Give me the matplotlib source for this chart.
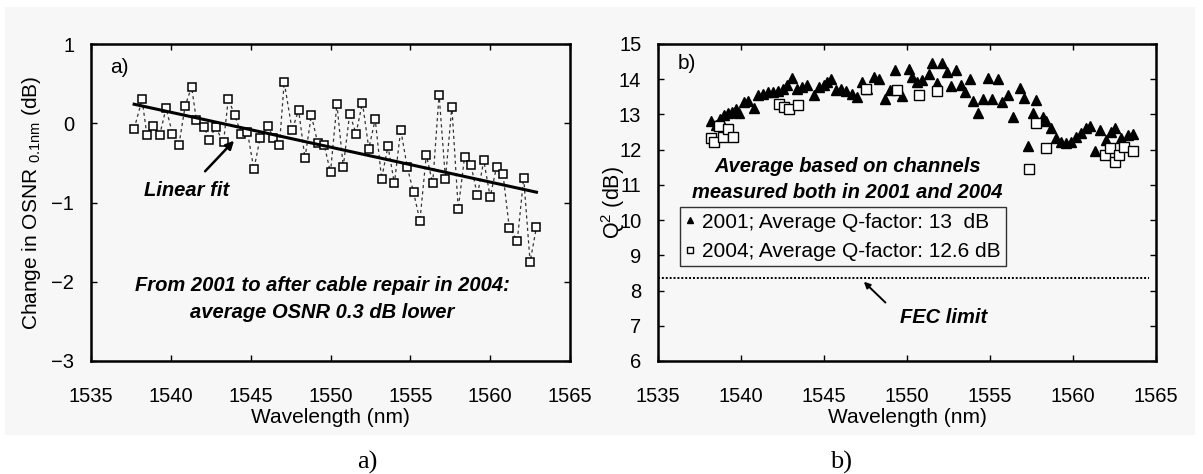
import matplotlib
matplotlib.use("Agg")
import matplotlib.pyplot as plt
from matplotlib.patches import Rectangle

plt.rcParams['font.family'] = ['Liberation Sans', 'DejaVu Sans']
plt.rcParams['mathtext.fontset'] = 'custom'
plt.rcParams['mathtext.rm'] = 'Liberation Sans'

# ---- Panel a) data: change in OSNR ----
osnr_wl = [1537.7, 1538.2, 1538.5, 1538.9, 1539.3, 1539.7, 1540.1, 1540.5, 1540.9, 1541.3,
           1541.6, 1542.1, 1542.4, 1542.8, 1543.3, 1543.6, 1544.0, 1544.4, 1544.8, 1545.2,
           1545.6, 1546.1, 1546.4, 1546.8, 1547.1, 1547.6, 1548.0, 1548.4, 1548.8, 1549.2,
           1549.6, 1550.0, 1550.4, 1550.8, 1551.2, 1551.6, 1552.0, 1552.4, 1552.8, 1553.2,
           1553.6, 1554.0, 1554.4, 1554.8, 1555.2, 1555.6, 1556.0, 1556.4, 1556.8, 1557.2,
           1557.6, 1558.0, 1558.4, 1558.8, 1559.2, 1559.6, 1560.0, 1560.4, 1560.8, 1561.2,
           1561.7, 1562.1, 1562.5, 1562.9]
osnr_change = [-0.07, 0.30, -0.15, -0.04, -0.15, 0.19, -0.13, -0.28, 0.22, 0.46,
               0.04, -0.05, -0.21, -0.05, -0.24, 0.31, 0.10, -0.13, -0.11, -0.58,
               -0.18, -0.04, -0.18, -0.28, 0.52, -0.09, 0.17, -0.44, 0.10, -0.25,
               -0.27, -0.62, 0.24, -0.55, 0.12, -0.13, 0.26, -0.32, 0.05, -0.70,
               -0.29, -0.76, -0.08, -0.55, -0.87, -1.23, -0.40, -0.76, 0.36, -0.70,
               0.21, -1.08, -0.42, -0.53, -0.91, -0.47, -0.93, -0.55, -0.64, -1.32,
               -1.48, -0.69, -1.75, -1.31]
fit_wl = [1537.7, 1562.9]
fit_change = [0.24, -0.87]

# ---- Panel b) data: Q-factor ----
q2001_wl = [1538.2, 1538.5, 1538.75, 1539.0, 1539.2, 1539.45, 1539.7, 1539.9, 1540.2, 1540.4,
            1540.8, 1541.0, 1541.3, 1541.6, 1541.9, 1542.2, 1542.5, 1542.8, 1543.1, 1543.4,
            1543.7, 1544.0, 1544.4, 1544.7, 1545.0, 1545.2, 1545.4, 1545.7, 1546.0, 1546.35,
            1546.7, 1547.0, 1547.3, 1547.6, 1548.0, 1548.3, 1548.7, 1549.0, 1549.3, 1549.7,
            1550.1, 1550.3, 1550.6, 1550.9, 1551.3, 1551.5, 1551.8, 1552.1, 1552.4, 1552.65,
            1552.95, 1553.25, 1553.5, 1553.8, 1554.0, 1554.3, 1554.6, 1554.9, 1555.15, 1555.5,
            1555.7, 1556.1, 1556.4, 1556.8, 1557.05, 1557.3, 1557.6, 1557.8, 1558.2, 1558.4,
            1558.7, 1559.0, 1559.3, 1559.6, 1559.9, 1560.2, 1560.5, 1560.8, 1561.05, 1561.3,
            1561.6, 1562.0, 1562.3, 1562.55, 1562.9, 1563.3, 1563.6]
q2001 = [12.80, 12.70, 12.87, 12.98, 13.03, 13.08, 13.15, 13.03, 13.36, 13.39,
         13.19, 13.55, 13.59, 13.64, 13.64, 13.66, 13.72, 13.83, 14.03, 13.72,
         13.78, 13.83, 13.55, 13.78, 13.83, 13.92, 14.00, 13.69, 13.72, 13.66,
         13.59, 13.50, 13.92, 13.73, 14.06, 14.02, 13.45, 13.69, 14.25, 13.53,
         14.28, 14.06, 13.92, 13.97, 14.16, 14.47, 13.90, 14.47, 14.20, 13.80,
         14.25, 13.83, 13.64, 14.00, 13.38, 13.03, 13.43, 14.03, 13.45, 14.00,
         13.36, 13.55, 12.94, 13.75, 13.47, 12.09, 13.03, 13.41, 12.94, 12.80,
         12.61, 12.33, 12.23, 12.19, 12.23, 12.37, 12.47, 12.61, 12.66, 11.95,
         12.56, 12.28, 12.50, 12.61, 12.33, 12.42, 12.44]
q2004_wl = [1538.2, 1538.4, 1538.7, 1538.9, 1539.2, 1539.5, 1542.3, 1542.6, 1542.9, 1543.45,
            1547.5, 1549.4, 1550.7, 1551.8, 1557.35, 1557.8, 1558.4, 1561.9, 1562.2, 1562.5,
            1562.8, 1563.1, 1563.6]
q2004 = [12.33, 12.23, 12.68, 12.37, 12.59, 12.35, 13.31, 13.22, 13.15, 13.28,
         13.72, 13.69, 13.55, 13.66, 11.44, 12.75, 12.05, 11.86, 12.05, 11.65,
         11.84, 12.07, 11.95]
fec_limit = 8.36
legend_labels = ["2001; Average Q-factor: 13  dB", "2004; Average Q-factor: 12.6 dB"]

W, H = 1203, 474
fig = plt.figure(figsize=(W / 100, H / 100), dpi=100)
fig.patch.set_facecolor('white')
bg = Rectangle((5 / W, 1 - 435 / H), 1190 / W, (435 - 7) / H,
               transform=fig.transFigure, facecolor='#f7f7f7',
               edgecolor='none', zorder=-10)
fig.add_artist(bg)

bottom = 1 - 361 / H
height = (361 - 44) / H
axA = fig.add_axes([91 / W, bottom, (570 - 91) / W, height])
axB = fig.add_axes([658 / W, bottom, (1156 - 658) / W, height])

tick_fs = 14.5
label_fs = 15
bold_it = dict(fontweight='bold', fontstyle='italic', fontsize=14.5)

for ax in (axA, axB):
    ax.set_facecolor('none')
    for s in ax.spines.values():
        s.set_linewidth(1.8)
    ax.tick_params(direction='in', top=True, right=True, length=4, width=1,
                   labelsize=tick_fs)
    ax.tick_params(axis='x', pad=19)
    ax.tick_params(axis='y', pad=12)
    ax.set_xlim(1535, 1565)
    ax.set_xticks([1535, 1540, 1545, 1550, 1555, 1560, 1565])
    ax.set_xlabel("Wavelength (nm)", fontsize=label_fs, labelpad=1)

# Panel a
axA.plot(osnr_wl, osnr_change, linestyle=(0, (2.5, 2.5)), color='#333333', lw=0.9,
         marker='s', markersize=6, markerfacecolor='white', markeredgecolor='black',
         markeredgewidth=1.1)
axA.plot(fit_wl, fit_change, color='black', lw=2.2)
axA.set_ylim(-3, 1)
axA.set_yticks([-3, -2, -1, 0, 1])
axA.set_ylabel(r"Change in OSNR $_{\mathregular{0.1nm}}$ (dB)", fontsize=label_fs, labelpad=6)
axA.text(1536.2, 0.70, "a)", fontsize=15, ha='left', va='center')
axA.annotate("Linear fit", xy=(1543.96, -0.22), xytext=(1541.0, -0.85),
             ha='center', va='center', **bold_it,
             arrowprops=dict(arrowstyle='-|>', color='black', lw=1.8,
                             shrinkA=7, shrinkB=0, mutation_scale=12))
axA.text(1549.5, -2.05, "From 2001 to after cable repair in 2004:", ha='center',
         va='center', **bold_it)
axA.text(1549.5, -2.39, "average OSNR 0.3 dB lower", ha='center', va='center', **bold_it)

# Panel b
axB.plot(q2001_wl, q2001, linestyle='none', marker='^', markersize=6.5,
         color='black', label=legend_labels[0])
axB.plot(q2004_wl, q2004, linestyle='none', marker='s', markersize=6.5,
         markerfacecolor='white', markeredgecolor='black', markeredgewidth=1.0,
         label=legend_labels[1])
axB.axhline(fec_limit, xmin=0.0, xmax=0.985, color='black', lw=1.4, linestyle=(0, (1, 1)))
axB.set_ylim(6, 15)
axB.set_yticks(list(range(6, 16)))
axB.set_ylabel(r"Q$^2$ (dB)", fontsize=15.5, labelpad=-6)
axB.text(1536.2, 14.44, "b)", fontsize=15, ha='left', va='center')
axB.text(1546.4, 11.51, "Average based on channels", ha='center', va='center', **bold_it)
axB.text(1546.4, 10.78, "measured both in 2001 and 2004", ha='center', va='center', **bold_it)
axB.annotate("", xy=(1547.4, 8.25), xytext=(1548.7, 7.66),
             arrowprops=dict(arrowstyle='-|>', color='black', lw=1.4,
                             shrinkA=0, shrinkB=0, mutation_scale=9))
axB.text(1552.2, 7.24, "FEC limit", ha='center', va='center', **bold_it)
leg = axB.legend(loc='upper left', bbox_to_anchor=(1536.3, 10.36), bbox_transform=axB.transData,
                 frameon=True, fancybox=False, fontsize=15, handlelength=0.5,
                 handletextpad=0.35, borderpad=0.25, labelspacing=0.5, markerscale=0.65,
                 borderaxespad=0)
leg.get_frame().set_edgecolor('black')
leg.get_frame().set_linewidth(1.0)
leg.get_frame().set_facecolor('#f7f7f7')

fig.text(367 / W, 1 - 462 / H, "a)", fontsize=19, family='Liberation Serif',
         ha='center', va='center')
fig.text(841 / W, 1 - 462 / H, "b)", fontsize=19, family='Liberation Serif',
         ha='center', va='center')

fig.savefig("out.png", dpi=100, facecolor=fig.get_facecolor())
